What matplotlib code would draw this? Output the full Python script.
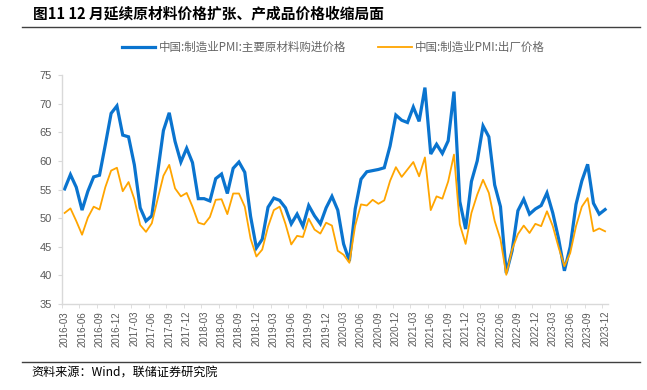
import pandas as pd
import matplotlib
matplotlib.use("Agg")
import matplotlib.pyplot as plt
from matplotlib.lines import Line2D

plt.rcParams['font.family'] = ['Noto Sans CJK SC', 'DejaVu Sans']

# monthly categories 2016-03 .. 2023-12
months = pd.period_range("2016-03", "2023-12", freq="M").strftime("%Y-%m").tolist()

# 中国:制造业PMI:主要原材料购进价格
purchase = [
    55.1, 57.6, 55.4, 51.4, 54.7, 57.2, 57.5, 62.8, 68.3, 69.6,
    64.5, 64.2, 59.3, 51.8, 49.5, 50.4, 57.9, 65.3, 68.4, 63.4, 59.8, 62.2,
    59.7, 53.4, 53.4, 53.0, 56.9, 57.7, 54.3, 58.7, 59.8, 58.0, 50.3, 44.8,
    46.3, 51.9, 53.5, 53.1, 51.8, 49.0, 50.7, 48.6, 52.2, 50.4, 49.0, 51.8,
    53.8, 51.4, 45.5, 42.5, 51.6, 56.8, 58.1, 58.3, 58.5, 58.8, 62.6, 68.0,
    67.1, 66.7, 69.4, 66.9, 72.8, 61.2, 62.9, 61.3, 63.5, 72.1, 52.9, 48.1,
    56.4, 60.0, 66.1, 64.2, 55.8, 52.0, 40.4, 44.3, 51.3, 53.3, 50.7, 51.6,
    52.2, 54.4, 50.9, 46.4, 40.8, 45.0, 52.4, 56.5, 59.4, 52.6, 50.7, 51.5,
]

# 中国:制造业PMI:出厂价格
output = [
    50.9, 51.7, 49.5, 47.1, 50.1, 52.0, 51.5, 55.4, 58.3, 58.8,
    54.7, 56.3, 53.3, 48.8, 47.6, 49.1, 53.3, 57.4, 59.3, 55.2, 53.8, 54.4,
    52.0, 49.2, 48.9, 50.2, 53.2, 53.3, 50.7, 54.3, 54.3, 52.0, 46.4, 43.3,
    44.5, 48.5, 51.4, 52.0, 49.0, 45.4, 46.9, 46.7, 49.9, 48.0, 47.3, 49.2,
    48.7, 44.3, 43.6, 42.2, 48.7, 52.4, 52.2, 53.2, 52.5, 53.1, 56.5, 58.9,
    57.2, 58.5, 59.8, 57.3, 60.6, 51.4, 53.8, 53.4, 56.4, 61.1, 48.9, 45.5,
    50.9, 54.1, 56.7, 54.4, 49.5, 46.3, 40.1, 44.5, 47.2, 48.7, 47.4, 49.0,
    48.6, 51.2, 48.6, 44.9, 41.6, 43.9, 48.6, 52.0, 53.5, 47.7, 48.2, 47.7,
]

names = ["中国:制造业PMI:主要原材料购进价格", "中国:制造业PMI:出厂价格"]
blue = "#0A74CF"
orange = "#FFA500"
gray = "#595959"
axis_gray = "#D9D9D9"

fig = plt.figure(figsize=(6.47, 3.90), dpi=100)
ax = fig.add_axes([0.0954, 0.2205, 0.8443, 0.5872])

x = list(range(len(months)))
ax.plot(x, purchase, color=blue, lw=2.3, solid_joinstyle="miter")
ax.plot(x, output, color=orange, lw=1.3)

ax.set_xlim(-0.5, len(months) - 0.5)
ax.set_ylim(35, 75)
ax.set_yticks(range(35, 80, 5))

tick_pos = list(range(0, len(months), 3))
ax.set_xticks(tick_pos)
ax.set_xticklabels([months[i] for i in tick_pos], rotation=90,
                   fontsize=7, color=gray, family="Liberation Sans")
ax.set_xticks([p - 0.5 for p in tick_pos], minor=True)
ax.tick_params(axis="x", which="major", length=0, pad=5)
ax.tick_params(axis="x", which="minor", length=3, color=axis_gray)
ax.tick_params(axis="y", length=3, color=axis_gray, labelsize=8,
               labelcolor=gray, pad=4)
for lab in ax.get_yticklabels():
    lab.set_family("Liberation Sans")

for s in ["top", "right"]:
    ax.spines[s].set_visible(False)
for s in ["left", "bottom"]:
    ax.spines[s].set_color(axis_gray)
    ax.spines[s].set_linewidth(1)

handles = [Line2D([], [], color=blue, lw=2.3), Line2D([], [], color=orange, lw=1.3)]
leg = fig.legend(handles, names, loc="center", bbox_to_anchor=(0.515, 0.879),
                 ncol=2, frameon=False, fontsize=8.3, handlelength=2.9,
                 handletextpad=0.3, columnspacing=2.8)
for t in leg.get_texts():
    t.set_color("#666666")

# title, rules, source
fig.text(0.051, 1 - 13.5 / 390, "图11 12 月延续原材料价格扩张、产成品价格收缩局面",
         fontsize=10.6, fontweight="bold", va="center", ha="left")
fig.add_artist(Line2D([22 / 647, 640 / 647], [1 - 26.5 / 390] * 2, color="#404040", lw=1))
fig.add_artist(Line2D([22 / 647, 640 / 647], [1 - 362 / 390] * 2, color="#404040", lw=1))
fig.text(0.049, 1 - 373 / 390, "资料来源：Wind，联储证券研究院",
         fontsize=8.7, va="center", ha="left")

fig.savefig("out.png", dpi=100)
